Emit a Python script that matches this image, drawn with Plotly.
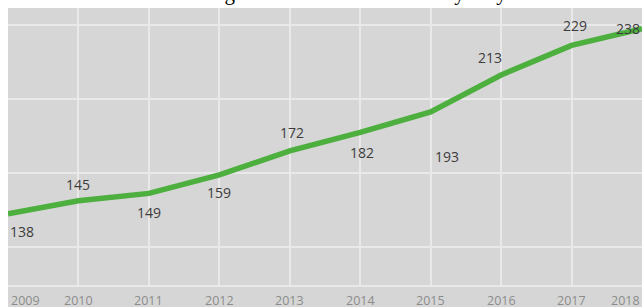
import plotly.graph_objects as go

years = [2009, 2010, 2011, 2012, 2013, 2014, 2015, 2016, 2017, 2018]
values = [138, 145, 149, 159, 172, 182, 193, 213, 229, 238]
tick_labels = [str(y) for y in years]
title_text = "Figure 3: Growth in count of yearly stations"

# label offsets (pixels) for the value labels
label_dx = [14, 0, 0, 0, 2, 2, 16, -11, 3, -14]
label_dy = [-18, 16, -19, -18, 18, -20, -45, 17, 20, 0]
# tick label offsets (end labels pushed inside)
tick_dx = [17, 0, 0, 0, 0, 0, 0, 0, 0, -17]

BG = "#d6d6d6"
GRID = "#e9e9e9"
GREEN = "#4caf3e"

fig = go.Figure()
fig.add_trace(go.Scatter(
    x=years, y=values, mode="lines",
    line=dict(color=GREEN, width=5.5),
    hoverinfo="skip", showlegend=False,
))

annotations = []
for x, v, dx, dy in zip(years, values, label_dx, label_dy):
    annotations.append(dict(
        x=x, y=v, xref="x", yref="y", text=str(v), showarrow=False,
        xshift=dx, yshift=dy,
        font=dict(family="Open Sans, DejaVu Sans, sans-serif", size=14, color="#3c3c3c"),
    ))
for x, t, dx in zip(years, tick_labels, tick_dx):
    annotations.append(dict(
        x=x, y=0, xref="x", yref="paper", text=t, showarrow=False,
        xshift=dx, yshift=-15, yanchor="middle",
        font=dict(family="Open Sans, DejaVu Sans, sans-serif", size=12.5, color="#8c8c8c"),
    ))
annotations.append(dict(
    x=(205 - 8) / 634, y=1, xref="paper", yref="paper", text=title_text,
    showarrow=False, xanchor="left", yanchor="bottom", yshift=1,
    font=dict(family="Liberation Serif, Times New Roman, serif", size=21, color="#000000"),
))

fig.update_layout(
    width=642, height=307,
    margin=dict(l=8, r=0, t=8, b=22),
    paper_bgcolor="white",
    plot_bgcolor=BG,
    annotations=annotations,
    shapes=[dict(type="rect", xref="paper", yref="paper", x0=0, x1=1, y0=-0.2, y1=1,
                 fillcolor=BG, line=dict(width=0), layer="below")],
    xaxis=dict(range=[2009, 2018], tickvals=years, showticklabels=False,
               showgrid=True, gridcolor=GRID, gridwidth=1.5, zeroline=False,
               showline=True, linecolor=GRID, linewidth=1.5, ticks=""),
    yaxis=dict(range=[99.5, 249.2], tick0=0, dtick=40, showticklabels=False,
               showgrid=True, gridcolor=GRID, gridwidth=1.5, zeroline=False, ticks=""),
)

fig.write_html("out.html", config={"displayModeBar": False},
               post_script="document.body.style.margin='0';document.body.style.overflow='hidden';")
